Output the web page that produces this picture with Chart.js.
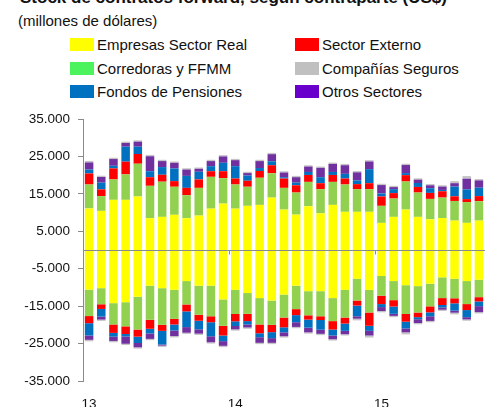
<!DOCTYPE html>
<html>
<head>
<meta charset="utf-8">
<script src="https://cdn.jsdelivr.net/npm/chart.js@4.4.1/dist/chart.umd.min.js"></script>
<style>
  body { margin: 0; background: #fff; }
  #wrap { position: relative; width: 492px; height: 407px; overflow: hidden; font-family: "Liberation Sans", Arial, sans-serif; color: #111; }
  #title { position: absolute; left: 20px; top: -11px; font-weight: bold; font-size: 17px; line-height: 17px; white-space: nowrap; }
  #sub { position: absolute; left: 18px; top: 12px; font-size: 15px; line-height: 17px; white-space: nowrap; }
  .leg { position: absolute; height: 16px; font-size: 15px; line-height: 16px; white-space: nowrap; }
  .leg i { position: absolute; left: 0; top: 1px; width: 24px; height: 13px; }
  .leg span { position: absolute; left: 27px; top: 0; }
  canvas { position: absolute; left: 0; top: 0; }
</style>
</head>
<body>
<div id="wrap">
  <div id="title">Stock de contratos forward, según contraparte (US$)</div>
  <div id="sub">(millones de dólares)</div>
  <div id="legend"></div>
  <canvas id="chart" width="492" height="407"></canvas>
</div>
<script>
// months jan-13 .. sep-15
const categories = [
  'ene-13','feb-13','mar-13','abr-13','may-13','jun-13','jul-13','ago-13','sep-13','oct-13','nov-13','dic-13',
  'ene-14','feb-14','mar-14','abr-14','may-14','jun-14','jul-14','ago-14','sep-14','oct-14','nov-14','dic-14',
  'ene-15','feb-15','mar-15','abr-15','may-15','jun-15','jul-15','ago-15','sep-15'
];
const yearLabels = { 'ene-13': '13', 'ene-14': '14', 'ene-15': '15' };
const yTicks = [-35000, -25000, -15000, -5000, 5000, 15000, 25000, 35000];

// positive side (compras)
const realPos = [11100, 10450, 13400, 13400, 14300, 8500, 8850, 9400, 8500, 9200, 11050, 12400, 11050, 11800, 12050, 14000, 10800, 9450, 11700, 9800, 12050, 10200, 10200, 10200, 7250, 8850, 10800, 8850, 8200, 8550, 7850, 7250, 7850];
const corrPos = [6400, 3950, 5450, 6800, 8750, 8650, 9400, 7500, 6150, 7400, 8500, 6800, 6450, 5100, 7250, 6500, 5800, 5900, 6500, 6450, 6150, 7300, 6050, 6050, 4550, 4900, 7500, 6500, 5450, 5450, 5250, 5550, 5200];
const extPos = [2950, 1800, 2950, 3400, 2600, 2300, 1850, 1500, 1950, 2250, 1500, 1850, 1600, 1600, 1800, 2150, 2500, 1950, 1850, 1600, 1850, 1600, 1350, 1600, 2500, 1450, 1700, 1500, 1600, 1700, 1250, 800, 1350];
const afpPos = [1050, 1800, 700, 4000, 1950, 1600, 2050, 3400, 3200, 2050, 1350, 2250, 3300, 1400, 800, 1050, 350, 700, 800, 1600, 800, 1250, 1000, 3750, 800, 1050, 550, 1050, 1250, 350, 2600, 2600, 2250];
const otrosPos = [1900, 1500, 1800, 1000, 1350, 4000, 1600, 1500, 1700, 800, 1350, 1700, 1600, 650, 1850, 1900, 1250, 1450, 1450, 2500, 2150, 2300, 2150, 2050, 2250, 550, 2150, 900, 800, 900, 900, 2850, 1950];
const segPos = [400, 350, 350, 350, 350, 350, 350, 350, 350, 350, 350, 350, 350, 350, 350, 350, 350, 350, 350, 350, 350, 350, 350, 350, 350, 350, 350, 350, 350, 350, 550, 700, 350];

// negative side (ventas)
const realNeg = [-10600, -10200, -14200, -13950, -12500, -9550, -10200, -10650, -8300, -9550, -9550, -13200, -10650, -11500, -12850, -13500, -11900, -9550, -11000, -11000, -12850, -10650, -7700, -10650, -6950, -8300, -9400, -9650, -9000, -7300, -7700, -8300, -7950];
const corrNeg = [-7050, -4300, -5700, -6450, -8750, -9100, -9800, -7750, -6250, -7750, -8150, -7050, -6450, -5550, -7050, -6500, -6150, -6250, -6450, -6700, -6150, -7400, -5800, -6050, -5250, -5100, -7700, -7050, -6050, -5550, -5200, -6150, -4650];
const extNeg = [-1900, -1250, -2250, -2050, -1900, -2400, -1600, -1500, -1850, -1600, -1600, -2600, -1950, -1950, -2350, -1950, -2600, -1600, -1150, -1000, -2250, -1600, -1350, -3550, -2250, -1700, -2050, -1250, -1600, -1850, -1350, -1600, -1150];
const afpNeg = [-3300, -2050, -1000, -650, -1700, -1250, -3650, -1600, -4200, -2300, -3750, -1500, -1250, -900, -1050, -1600, -1350, -1900, -2150, -2600, -1600, -1950, -2850, -1350, -800, -1950, -1800, -550, -1050, -650, -1950, -1900, -1250];
const otrosNeg = [-1150, -800, -1150, -1950, -1150, -1450, -300, -1500, -1500, -1150, -1600, -1250, -900, -800, -1500, -1250, -1050, -1250, -1250, -1100, -1000, -900, -650, -1250, -1050, -550, -1050, -1000, -1250, -600, -550, -600, -1600];
const segNeg = [-400, -350, -350, -350, -350, -350, -350, -350, -350, -350, -350, -350, -350, -350, -350, -350, -350, -350, -350, -350, -350, -350, -450, -550, -350, -350, -550, -350, -350, -350, -450, -350, -350];

// stacking order, from zero outwards
const series = [
  { name: 'Empresas Sector Real', bar: '#FFFF00', key: '#FFFF00', pos: realPos, neg: realNeg },
  { name: 'Corredoras y FFMM', bar: '#92D050', key: '#4CF35C', pos: corrPos, neg: corrNeg },
  { name: 'Sector Externo', bar: '#FF0000', key: '#FF0000', pos: extPos, neg: extNeg },
  { name: 'Fondos de Pensiones', bar: '#0070C0', key: '#0070C0', pos: afpPos, neg: afpNeg },
  { name: 'Otros Sectores', bar: '#7030A0', key: '#6A00CC', pos: otrosPos, neg: otrosNeg },
  { name: 'Compañías Seguros', bar: '#C4C4C4', key: '#C0C0C0', pos: segPos, neg: segNeg }
];

// legend as in the original (two columns, three rows)
const legendOrder = ['Empresas Sector Real', 'Sector Externo', 'Corredoras y FFMM', 'Compañías Seguros', 'Fondos de Pensiones', 'Otros Sectores'];
const legend = document.getElementById('legend');
legendOrder.forEach((name, i) => {
  const s = series.find(x => x.name === name);
  const d = document.createElement('div');
  d.className = 'leg';
  d.style.left = (i % 2 === 0 ? 70 : 295) + 'px';
  d.style.top = (37 + Math.floor(i / 2) * 23.5) + 'px';
  d.innerHTML = '<i style="background:' + s.key + '"></i><span>' + name + '</span>';
  legend.appendChild(d);
});

const datasets = [];
series.forEach(s => {
  datasets.push({ label: s.name, data: s.pos, backgroundColor: s.bar, stack: 'a' });
  datasets.push({ label: s.name, data: s.neg, backgroundColor: s.bar, stack: 'a' });
});

const axisGray = '#8a8a8a';

// zero line + small tick marks on it between years
const zeroLine = {
  id: 'zeroLine',
  afterDatasetsDraw(chart) {
    const x = chart.scales.x, y = chart.scales.y, ctx = chart.ctx;
    const y0 = Math.round(y.getPixelForValue(0)) + 0.5;
    ctx.save();
    ctx.strokeStyle = axisGray;
    ctx.lineWidth = 1;
    ctx.beginPath();
    ctx.moveTo(chart.chartArea.left, y0);
    ctx.lineTo(chart.chartArea.right, y0);
    ctx.stroke();
    [12, 24].forEach(i => {
      const px = Math.round((x.getPixelForValue(i - 1) + x.getPixelForValue(i)) / 2) + 0.5;
      ctx.beginPath();
      ctx.moveTo(px, y0);
      ctx.lineTo(px, y0 + 4);
      ctx.stroke();
    });
    ctx.restore();
  }
};

new Chart(document.getElementById('chart'), {
  type: 'bar',
  data: { labels: categories, datasets: datasets },
  options: {
    responsive: false,
    animation: false,
    devicePixelRatio: 1,
    layout: { padding: { top: 119, right: 7, left: 0, bottom: 0 } },
    datasets: { bar: { categoryPercentage: 1, barPercentage: 0.7, borderWidth: 0 } },
    plugins: { legend: { display: false }, tooltip: { enabled: false } },
    scales: {
      x: {
        stacked: true,
        grid: { display: false },
        border: { display: false },
        afterFit: s => { s.height = 26; },
        ticks: {
          autoSkip: false, maxRotation: 0, padding: 7,
          color: '#111',
          font: { family: '"Liberation Sans", Arial, sans-serif', size: 13.5 },
          callback: function (v) { return yearLabels[categories[v]] || ''; }
        }
      },
      y: {
        stacked: true,
        min: -35000, max: 35000,
        afterFit: s => { s.width = 83; },
        afterBuildTicks: s => { s.ticks = yTicks.map(v => ({ value: v })); },
        border: { color: axisGray, width: 1 },
        grid: { drawOnChartArea: false, tickColor: axisGray, tickLength: 5 },
        ticks: {
          padding: 8, color: '#111',
          font: { family: '"Liberation Sans", Arial, sans-serif', size: 13.5 },
          callback: v => v.toLocaleString('de-DE', { minimumFractionDigits: 3 }).replace(',000', '')
        }
      }
    }
  },
  plugins: [zeroLine]
});
</script>
</body>
</html>
